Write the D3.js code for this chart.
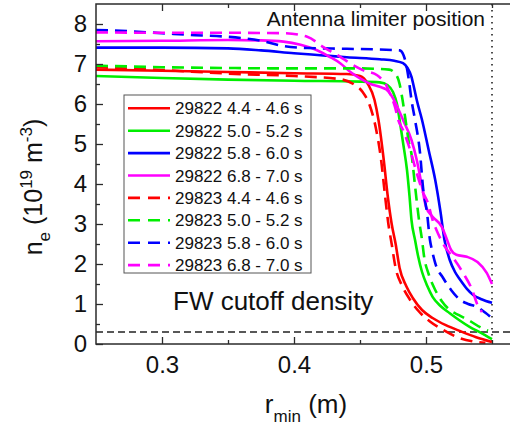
<!DOCTYPE html>
<html>
<head>
<meta charset="utf-8">
<script src="https://cdn.jsdelivr.net/npm/d3@7"></script>
<style>
  html, body { margin: 0; padding: 0; background: #fff; }
  svg { display: block; }
  text { font-family: "Liberation Sans", Arial, sans-serif; fill: #111; }
</style>
</head>
<body>
<svg id="chart" width="510" height="429"></svg>
<script>
// Density profiles n_e(r_min) for shots 29822 (solid) and 29823 (dashed)
const seriesLabels = [
  "29822 4.4 - 4.6 s", "29822 5.0 - 5.2 s", "29822 5.8 - 6.0 s", "29822 6.8 - 7.0 s",
  "29823 4.4 - 4.6 s", "29823 5.0 - 5.2 s", "29823 5.8 - 6.0 s", "29823 6.8 - 7.0 s"
];
const seriesColors = ["#ff0000", "#00ee00", "#0000ff", "#ff00ff", "#ff0000", "#00ee00", "#0000ff", "#ff00ff"];
const seriesDashed = [false, false, false, false, true, true, true, true];

// r_min (m), n_e (1e19 m^-3)
const r29822_44 = [0.25, 0.30, 0.35, 0.40, 0.44, 0.45, 0.456, 0.461, 0.464, 0.468, 0.471, 0.474, 0.477, 0.480, 0.485, 0.490, 0.497, 0.505, 0.515, 0.526, 0.538, 0.55];
const n29822_44 = [6.86, 6.83, 6.80, 6.77, 6.75, 6.70, 6.5, 6.1, 5.6, 4.6, 3.7, 3.0, 2.5, 1.9, 1.45, 1.15, 0.85, 0.65, 0.47, 0.32, 0.17, 0.05];

const r29822_50 = [0.25, 0.30, 0.35, 0.40, 0.45, 0.465, 0.471, 0.475, 0.478, 0.480, 0.483, 0.4856, 0.4875, 0.489, 0.4917, 0.494, 0.497, 0.501, 0.505, 0.511, 0.518, 0.525, 0.533, 0.541, 0.55];
const n29822_50 = [6.70, 6.65, 6.61, 6.58, 6.56, 6.54, 6.47, 6.3, 6.0, 5.6, 4.95, 4.35, 3.7, 3.1, 2.6, 2.2, 1.8, 1.45, 1.18, 0.95, 0.77, 0.6, 0.43, 0.29, 0.12];

const r29822_58 = [0.25, 0.30, 0.35, 0.375, 0.40, 0.42, 0.44, 0.465, 0.476, 0.4826, 0.486, 0.489, 0.491, 0.493, 0.497, 0.502, 0.507, 0.511, 0.514, 0.518, 0.522, 0.526, 0.531, 0.536, 0.542, 0.55];
const n29822_58 = [7.41, 7.41, 7.39, 7.34, 7.27, 7.22, 7.17, 7.12, 7.08, 7.02, 6.9, 6.68, 6.4, 6.1, 5.6, 4.85, 4.1, 3.3, 2.6, 2.1, 1.8, 1.6, 1.38, 1.22, 1.12, 1.03];

const r29822_68 = [0.25, 0.30, 0.35, 0.375, 0.392, 0.405, 0.417, 0.427, 0.435, 0.442, 0.45, 0.458, 0.465, 0.47, 0.474, 0.478, 0.4826, 0.489, 0.493, 0.497, 0.50, 0.505, 0.512, 0.516, 0.519, 0.523, 0.531, 0.539, 0.546, 0.55];
const n29822_68 = [7.57, 7.58, 7.60, 7.59, 7.56, 7.48, 7.35, 7.18, 7.02, 6.82, 6.64, 6.5, 6.43, 6.36, 6.2, 5.95, 5.6, 5.1, 4.6, 3.93, 3.43, 3.18, 2.93, 2.6, 2.35, 2.23, 2.18, 2.05, 1.78, 1.5];

const r29823_44 = [0.25, 0.30, 0.35, 0.40, 0.435, 0.445, 0.452, 0.457, 0.462, 0.466, 0.469, 0.4715, 0.474, 0.477, 0.482, 0.488, 0.495, 0.503, 0.513, 0.523, 0.535, 0.545];
const n29823_44 = [6.92, 6.85, 6.76, 6.70, 6.62, 6.5, 6.3, 6.0, 5.4, 4.6, 3.7, 3.0, 2.5, 1.9, 1.45, 1.1, 0.8, 0.56, 0.35, 0.18, 0.07, 0.03];

const r29823_50 = [0.25, 0.30, 0.35, 0.40, 0.45, 0.472, 0.477, 0.480, 0.482, 0.4845, 0.487, 0.489, 0.4917, 0.4947, 0.497, 0.4985, 0.502, 0.507, 0.512, 0.518, 0.525, 0.532, 0.541, 0.547];
const n29823_50 = [6.96, 6.92, 6.90, 6.89, 6.89, 6.86, 6.75, 6.5, 6.15, 5.6, 5.05, 4.75, 3.95, 3.1, 2.6, 2.2, 1.75, 1.35, 1.07, 0.85, 0.72, 0.6, 0.42, 0.33];

const r29823_58 = [0.25, 0.275, 0.30, 0.325, 0.35, 0.375, 0.392, 0.41, 0.44, 0.475, 0.480, 0.483, 0.4855, 0.487, 0.489, 0.4917, 0.4955, 0.4977, 0.5008, 0.503, 0.5045, 0.507, 0.513, 0.519, 0.526, 0.532, 0.539, 0.545, 0.55];
const n29823_58 = [7.85, 7.82, 7.77, 7.72, 7.68, 7.58, 7.45, 7.40, 7.38, 7.35, 7.34, 7.22, 6.9, 6.6, 6.1, 5.6, 4.77, 3.93, 3.27, 2.6, 2.35, 2.02, 1.65, 1.35, 1.1, 1.0, 0.92, 0.78, 0.65];

const r29823_68 = [0.25, 0.30, 0.35, 0.392, 0.41, 0.422, 0.435, 0.4424, 0.452, 0.463, 0.467, 0.469, 0.4727, 0.4765, 0.479, 0.4826, 0.488, 0.493, 0.498, 0.5015, 0.505, 0.509, 0.514, 0.520, 0.528, 0.535, 0.539, 0.5424];
const n29823_68 = [7.79, 7.78, 7.78, 7.77, 7.68, 7.43, 7.18, 7.02, 6.85, 6.72, 6.6, 6.52, 6.26, 5.93, 5.6, 5.35, 4.85, 4.27, 3.77, 3.52, 3.1, 2.77, 2.45, 2.18, 1.78, 1.35, 0.98, 0.8];

const seriesR = [r29822_44, r29822_50, r29822_58, r29822_68, r29823_44, r29823_50, r29823_58, r29823_68];
const seriesN = [n29822_44, n29822_50, n29822_58, n29822_68, n29823_44, n29823_50, n29823_58, n29823_68];

const xMajorTicks = [0.3, 0.4, 0.5];
const xMinorTicks = [0.35, 0.45, 0.55];
const yMajorTicks = [0, 1, 2, 3, 4, 5, 6, 7, 8];
const yMinorTicks = [0.5, 1.5, 2.5, 3.5, 4.5, 5.5, 6.5, 7.5];

const cutoffDensity = 0.3;
const limiterPosition = 0.55;

const svg = d3.select("#chart");
const plotLeft = 96, plotTop = 4, plotBottom = 344;
const x = d3.scaleLinear().domain([0.25, 0.57]).range([plotLeft, plotLeft + 0.32 * 1320]);
const y = d3.scaleLinear().domain([0, 8.5]).range([plotBottom, plotTop]);
const plotRight = x(0.57);

const axisColor = "#2b2b2b";

// Cutoff density and limiter position reference lines
svg.append("line")
  .attr("x1", plotLeft).attr("x2", plotRight)
  .attr("y1", y(cutoffDensity)).attr("y2", y(cutoffDensity))
  .attr("stroke", "#222").attr("stroke-width", 1.4).attr("stroke-dasharray", "7,4");
svg.append("line")
  .attr("x1", x(limiterPosition)).attr("x2", x(limiterPosition))
  .attr("y1", plotTop).attr("y2", plotBottom)
  .attr("stroke", "#222").attr("stroke-width", 1.6).attr("stroke-dasharray", "1.6,4.4");

// Profiles
const line = d3.line()
  .x(d => x(d[0])).y(d => y(d[1]))
  .curve(d3.curveMonotoneX);

const plot = svg.append("g");
[0, 1, 2, 3, 4, 5, 6, 7].forEach(i => {
  const pts = seriesR[i].map((r, k) => [r, seriesN[i][k]]);
  plot.append("path")
    .attr("d", line(pts))
    .attr("fill", "none")
    .attr("stroke", seriesColors[i])
    .attr("stroke-width", 2.6)
    .attr("stroke-dasharray", seriesDashed[i] ? "12,7" : null);
});

// Axes (ticks point inward)
function styleAxis(g) {
  g.selectAll(".domain").remove();
  g.selectAll("line").attr("stroke", axisColor).attr("stroke-width", 1.3);
  g.selectAll("text").attr("fill", "#111")
    .style("font-family", "'Liberation Sans', Arial, sans-serif").style("font-size", "24px");
}
svg.append("g").attr("transform", `translate(0,${plotBottom})`)
  .call(d3.axisBottom(x).tickValues(xMajorTicks).tickSize(-7).tickPadding(12).tickFormat(d3.format(".1f")))
  .call(styleAxis);
svg.append("g").attr("transform", `translate(0,${plotBottom})`)
  .call(d3.axisBottom(x).tickValues(xMinorTicks).tickSize(-4).tickFormat(""))
  .call(styleAxis);
svg.append("g").attr("transform", `translate(0,${plotTop})`)
  .call(d3.axisTop(x).tickValues(xMajorTicks).tickSize(-7).tickFormat(""))
  .call(styleAxis);
svg.append("g").attr("transform", `translate(0,${plotTop})`)
  .call(d3.axisTop(x).tickValues(xMinorTicks).tickSize(-4).tickFormat(""))
  .call(styleAxis);
svg.append("g").attr("transform", `translate(${plotLeft},0)`)
  .call(d3.axisLeft(y).tickValues(yMajorTicks).tickSize(-7).tickPadding(9).tickFormat(d3.format("d")))
  .call(styleAxis);
svg.append("g").attr("transform", `translate(${plotLeft},0)`)
  .call(d3.axisLeft(y).tickValues(yMinorTicks).tickSize(-4).tickFormat(""))
  .call(styleAxis);

// Frame
svg.append("rect")
  .attr("x", plotLeft).attr("y", plotTop)
  .attr("width", plotRight - plotLeft).attr("height", plotBottom - plotTop)
  .attr("fill", "none").attr("stroke", axisColor).attr("stroke-width", 1.5);

// Annotations
svg.append("text").attr("x", 485).attr("y", 26).attr("text-anchor", "end")
  .style("font-size", "21px").text("Antenna limiter position");
svg.append("text").attr("x", 173).attr("y", 310)
  .style("font-size", "26px").text("FW cutoff density");

// Legend
const legend = svg.append("g");
legend.append("rect")
  .attr("x", 124).attr("y", 95).attr("width", 187).attr("height", 178)
  .attr("fill", "#fff").attr("stroke", "#555").attr("stroke-width", 1);
seriesLabels.forEach((lab, i) => {
  const cy = 108.3 + i * 22.4;
  legend.append("line")
    .attr("x1", 128).attr("x2", 170).attr("y1", cy).attr("y2", cy)
    .attr("stroke", seriesColors[i]).attr("stroke-width", 2.6)
    .attr("stroke-dasharray", seriesDashed[i] ? "12,8" : null);
  legend.append("text").attr("x", 175).attr("y", cy + 6)
    .style("font-size", "17px").text(lab);
});

// Axis titles
const xt = svg.append("text").attr("x", 306).attr("y", 413).attr("text-anchor", "middle")
  .style("font-size", "26px");
xt.append("tspan").text("r");
xt.append("tspan").attr("dy", 9).style("font-size", "17px").text("min");
xt.append("tspan").attr("dy", -9).text(" (m)");

const yt = svg.append("text")
  .attr("transform", "translate(42,187) rotate(-90)")
  .attr("text-anchor", "middle")
  .style("font-size", "25px");
yt.append("tspan").text("n");
yt.append("tspan").attr("dy", 8).style("font-size", "17px").text("e");
yt.append("tspan").attr("dy", -8).text(" (10");
yt.append("tspan").attr("dy", -10).style("font-size", "17px").text("19");
yt.append("tspan").attr("dy", 10).text(" m");
yt.append("tspan").attr("dy", -10).style("font-size", "17px").text("-3");
yt.append("tspan").attr("dy", 10).text(")");
</script>
</body>
</html>
